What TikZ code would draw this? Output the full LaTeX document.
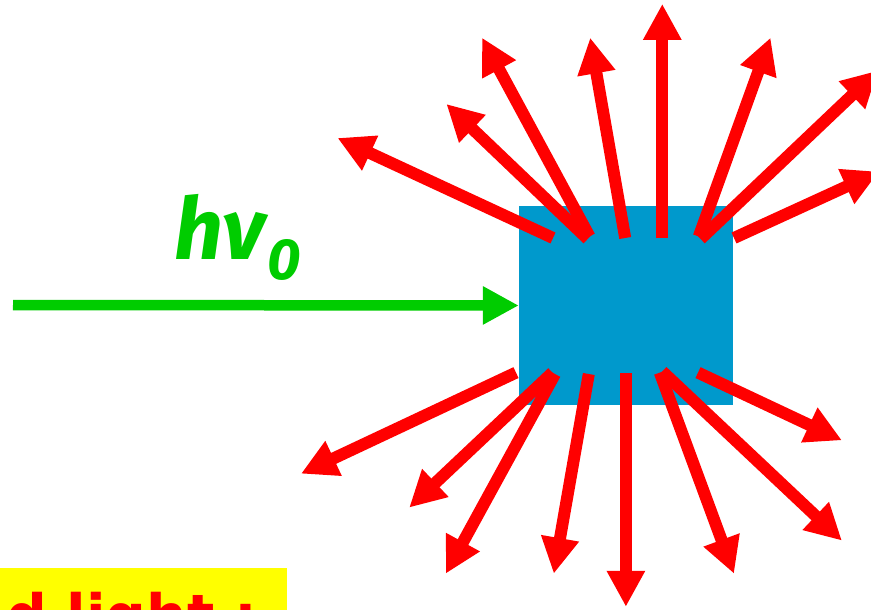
\documentclass[tikz,border=0pt]{standalone}
\usepackage{fontspec}
\setmainfont{Fira Sans}
\newfontfamily\capfont{DejaVu Sans}
\usetikzlibrary{arrows.meta}
\definecolor{boxblue}{HTML}{0099CC}
\definecolor{rayred}{HTML}{FF0000}
\definecolor{beamgreen}{HTML}{00CC00}
\definecolor{hilite}{HTML}{FFFF00}
\begin{document}
\begin{tikzpicture}[x=1pt,y=-1pt,
  ray/.style={draw=rayred, line width=12pt, -{Triangle[length=36pt,width=36pt]}},
  beam/.style={draw=beamgreen, line width=10.5pt, -{Triangle[length=36pt,width=36pt]}}]
\clip (0,0) rectangle (871,610);
% sample
\node[fill=boxblue, minimum width=214pt, minimum height=199pt, inner sep=0pt, draw=none] (box) at (626,305.5) {};
% incident beam
\coordinate (src) at (13,305);
\draw[beam] (src) -- (box.west);
\node[anchor=base west, inner sep=0pt, text=beamgreen, font=\fontsize{86}{86}\selectfont\bfseries\itshape] (label) at (174,259) {hν\kern2pt\raisebox{-20pt}{\fontsize{58}{58}\selectfont 0}};
% scattered rays
\foreach \i/\ax/\ay/\bx/\by in {
  1/553/238/337.5/138,
  2/587.7/239/446.4/104,
  3/589.5/236.5/482/37.7,
  4/625.2/238/590.2/37.7,
  5/662.3/238/662.3/3.9,
  6/698.8/236.5/770.5/37.7,
  7/700.6/239/878/70.5,
  8/734/238/879/171.6,
  9/516/372.6/301/473.7,
  10/552.4/372.6/409.2/507.6,
  11/555/374/445.7/573.7,
  12/588.8/374/553.8/573.7,
  13/625.9/373.4/625.9/606.8,
  14/659.8/372.6/734/573.7,
  15/662.3/371.4/841.9/540.6,
  16/698/372.6/841.9/440.3}{
  \coordinate (a\i) at (\ax,\ay);
  \coordinate (b\i) at (\bx,\by);
  \draw[ray] (a\i) -- (b\i);
}
% caption (cut by the lower edge, as in the reference)
\fill[hilite] (-5,568) rectangle (287,640);
\node[anchor=base west, inner sep=0pt, text=rayred, font=\capfont\bfseries\fontsize{57}{57}\selectfont] (caption) at (6,635) {d light :};
\end{tikzpicture}
\end{document}
